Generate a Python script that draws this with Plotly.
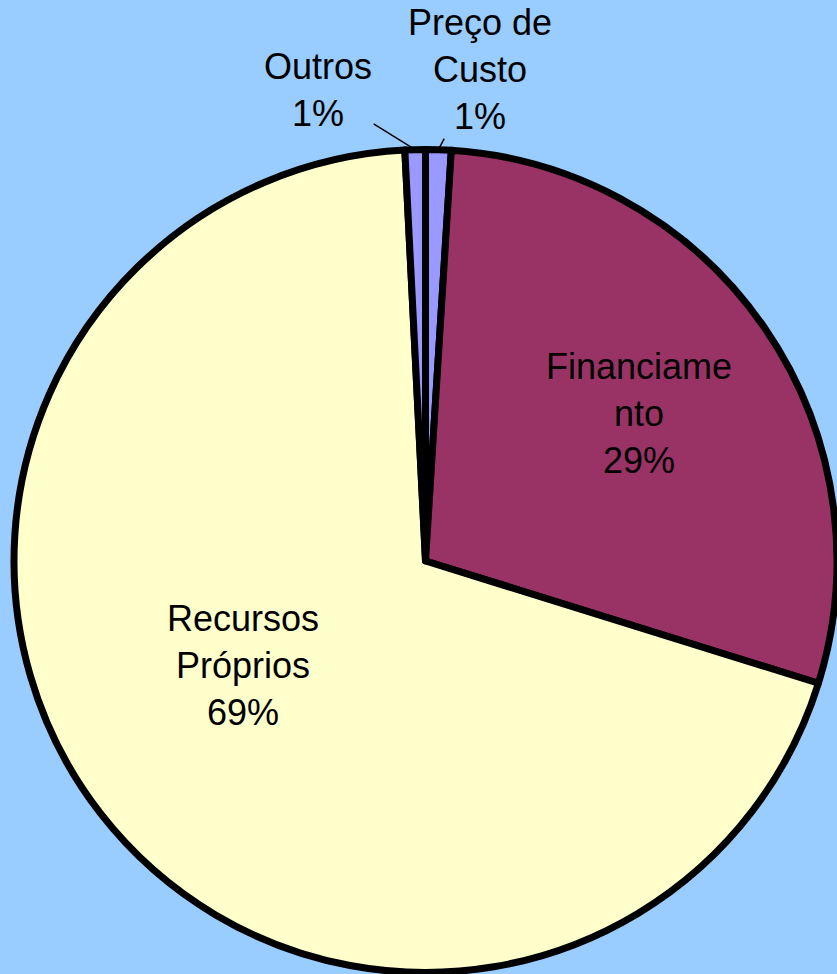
import numpy as np
import plotly.graph_objects as go

# slices, clockwise from 12 o'clock
labels = ["Preço de Custo", "Financiamento", "Recursos Próprios", "Outros"]
label_text = ["Preço de<br>Custo", "Financiame<br>nto", "Recursos<br>Próprios", "Outros"]
values = [1.0, 28.8, 69.4, 0.8]
colors = ["#9999FF", "#993366", "#FFFFCC", "#9999FF"]

W, H = 837, 974
cx, cy, r = 425.5, 561, 411.5  # pie centre / radius in px

# label placement: inside -> (radius fraction, angle tweak in deg)
# outside -> leader line from edge, text offset (ax, ay) in px
label_style = [
    dict(kind="outside", ax=42, ay=-80),
    dict(kind="inside", frac=0.63, dang=0),
    dict(kind="inside", frac=0.51, dang=8),
    dict(kind="outside", ax=-97, ay=-60),
]


def clamp(v):
    return min(1.0, max(0.0, v))


fig = go.Figure()

fig.add_trace(go.Pie(
    labels=labels,
    values=values,
    textinfo="none",
    sort=False,
    direction="clockwise",
    rotation=0,
    marker=dict(colors=colors, line=dict(color="black", width=7)),
    showlegend=False,
    hoverinfo="label+percent",
    domain=dict(x=[clamp((cx - r) / W), clamp((cx + r) / W)],
                y=[clamp(1 - (cy + r) / H), clamp(1 - (cy - r) / H)]),
))

# labels, positioned from the slice mid-angles
total = sum(values)
start = 0.0
for lab, val, st in zip(label_text, values, label_style):
    pct = val / total
    mid = (start + pct / 2) * 360
    start += pct
    txt = f"{lab}<br>{pct:.0%}"
    if st["kind"] == "inside":
        a = np.radians(mid + st["dang"])
        px = cx + st["frac"] * r * np.sin(a)
        py = cy - st["frac"] * r * np.cos(a)
        fig.add_annotation(x=px / W, y=1 - py / H, xref="paper", yref="paper",
                           xanchor="center", yanchor="middle",
                           text=txt, showarrow=False)
    else:
        a = np.radians(mid)
        px = cx + r * np.sin(a)
        py = cy - r * np.cos(a)
        fig.add_annotation(x=px / W, y=1 - py / H, xref="paper", yref="paper",
                           text=txt, showarrow=True, arrowhead=0,
                           arrowwidth=1.5, arrowcolor="black", standoff=0,
                           ax=st["ax"], ay=st["ay"])

fig.update_layout(
    width=W, height=H,
    margin=dict(l=0, r=0, t=0, b=0),
    paper_bgcolor="#99CCFF",
    plot_bgcolor="#99CCFF",
    font=dict(family="Liberation Sans, Arial", size=36, color="black"),
)

fig.write_html("out.html", config={"displayModeBar": False},
               post_script="document.body.style.margin='0px';")
